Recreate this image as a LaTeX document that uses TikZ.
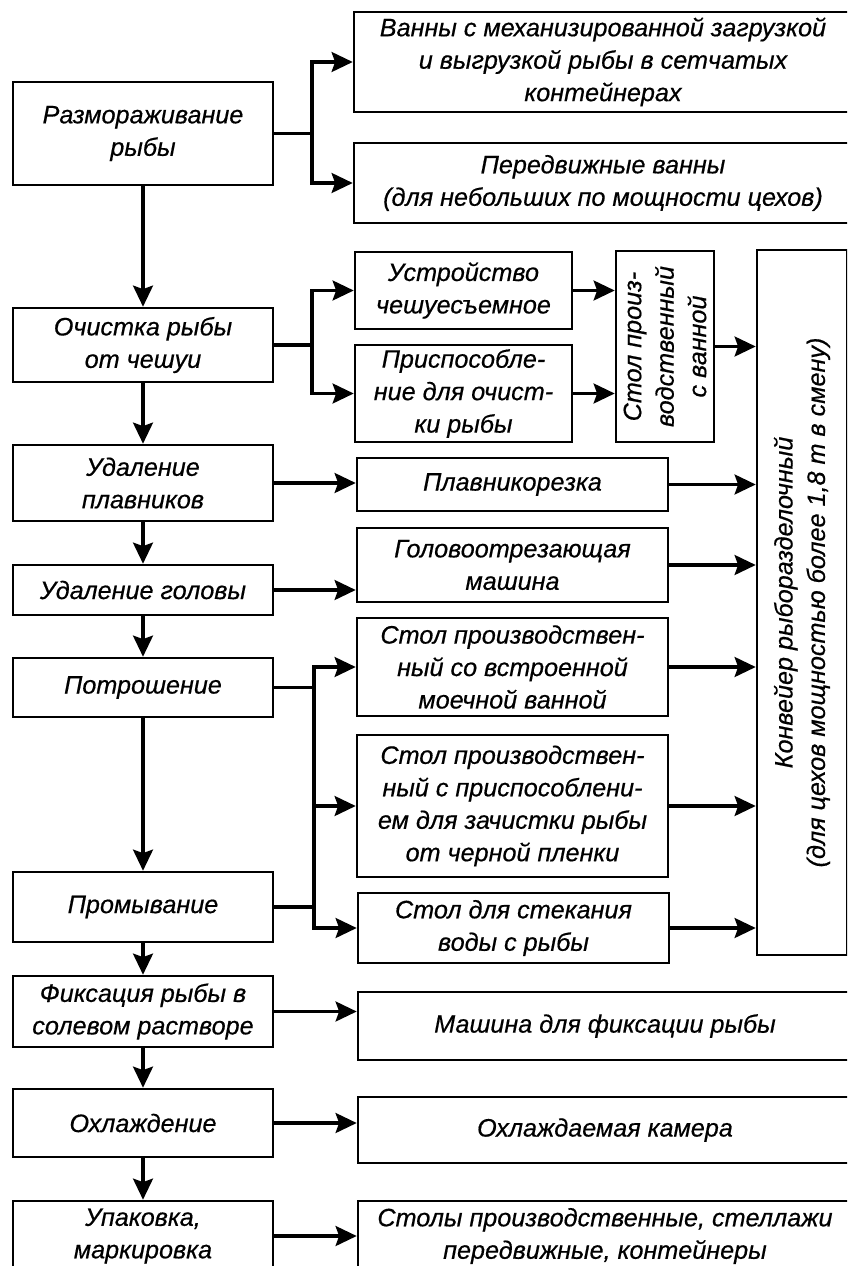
\documentclass[tikz,border=0pt]{standalone}
\usepackage{fontspec}
\setmainfont{Liberation Sans}[FakeBold=0.5]
\usetikzlibrary{arrows.meta}

\begin{document}
\begin{tikzpicture}[x=0.3mm,y=-0.3mm,
  box/.style={draw, rectangle, line width=2.2pt, align=center, inner sep=1pt,
    font=\itshape\fontsize{21.5}{27.7}\selectfont},
  link/.style={line width=2.8pt, -{Stealth[length=18pt,width=17pt,inset=3pt]}},
  plain/.style={line width=2.8pt}]
\useasboundingbox (0,0) rectangle (847,1266);
\clip (0,0) rectangle (847,1266);
% process steps
\node[box, minimum width=7.8cm, minimum height=3.09cm] (thaw) at (143,133.5) {Размораживание\\рыбы};
\node[box, minimum width=7.8cm, minimum height=2.22cm] (scale) at (143,345) {Очистка рыбы\\от чешуи};
\node[box, minimum width=7.8cm, minimum height=2.28cm] (fins) at (143,483) {Удаление\\плавников};
\node[box, minimum width=7.8cm, minimum height=1.5cm] (head) at (143,590) {Удаление головы};
\node[box, minimum width=7.8cm, minimum height=1.77cm] (gut) at (143,687.5) {Потрошение};
\node[box, minimum width=7.8cm, minimum height=2.1cm] (wash) at (143,907) {Промывание};
\node[box, minimum width=7.8cm, minimum height=2.13cm] (fix) at (143,1011.5) {Фиксация рыбы в\\солевом растворе};
\node[box, minimum width=7.8cm, minimum height=2.04cm] (cool) at (143,1123) {Охлаждение};
\node[box, minimum width=7.8cm, minimum height=2.1cm] (pack) at (143,1236) {Упаковка,\\маркировка};
% equipment
\node[box, minimum width=14.94cm, minimum height=3cm] (bathA) at (603,62) {Ванны с механизированной загрузкой\\и выгрузкой рыбы в сетчатых\\контейнерах};
\node[box, minimum width=14.94cm, minimum height=2.4cm] (bathB) at (603,183) {Передвижные ванны\\(для небольших по мощности цехов)};
\node[box, minimum width=6.51cm, minimum height=2.31cm] (descaler) at (463.5,290.5) {Устройство\\чешуесъемное};
\node[box, minimum width=6.51cm, minimum height=2.91cm] (device) at (463.5,393.5) {Приспособле-\\ние для очист-\\ки рыбы};
\node[box, rotate=90, minimum width=5.73cm, minimum height=2.94cm] (tablebath) at (665,346.5) {Стол произ-\\водственный\\с ванной};
\node[box, rotate=90, minimum width=21.15cm, minimum height=2.7cm] (conv) at (802,602.5) {Конвейер рыборазделочный\\(для цехов мощностью более 1,8 т в смену)};
\node[box, minimum width=9.33cm, minimum height=1.59cm] (fincut) at (512.5,484.5) {Плавникорезка};
\node[box, minimum width=9.33cm, minimum height=2.22cm] (headcut) at (512.5,565) {Головоотрезающая\\машина};
\node[box, minimum width=9.33cm, minimum height=2.94cm] (tableA) at (512.5,667) {Стол производствен-\\ный со встроенной\\моечной ванной};
\node[box, minimum width=9.33cm, minimum height=4.26cm] (tableB) at (512.5,806) {Стол производствен-\\ный с приспособлени-\\ем для зачистки рыбы\\от черной пленки};
\node[box, minimum width=9.33cm, minimum height=2.1cm] (drain) at (513.5,928) {Стол для стекания\\воды с рыбы};
\node[box, minimum width=14.82cm, minimum height=2.04cm] (fixer) at (605,1026) {Машина для фиксации рыбы};
\node[box, minimum width=14.82cm, minimum height=1.98cm] (cooler) at (605,1130) {Охлаждаемая камера};
\node[box, minimum width=14.82cm, minimum height=2.1cm] (racks) at (605,1236) {Столы производственные, стеллажи\\передвижные, контейнеры};
% branch points
\coordinate (j1) at (312,133.5);
\coordinate (j2) at (312,345);
\coordinate (j3) at (314,687.5);
% main line
\draw[link] (thaw) -- (scale);
\draw[link] (scale) -- (fins);
\draw[link] (fins) -- (head);
\draw[link] (head) -- (gut);
\draw[link] (gut) -- (wash);
\draw[link] (wash) -- (fix);
\draw[link] (fix) -- (cool);
\draw[link] (cool) -- (pack);
% to equipment
\draw[link] (thaw.east) -- (j1) |- (bathA.west);
\draw[link] (j1) |- (bathB.west);
\draw[link] (scale.east) -- (j2) |- (descaler.west);
\draw[link] (j2) |- (device.west);
\draw[link] (descaler.east) -- (descaler.east -| tablebath.north);
\draw[link] (device.east) -- (device.east -| tablebath.north);
\draw[link] (tablebath.south) -- (tablebath.south -| conv.north);
\draw[link] (fins.east) -- (fins.east -| fincut.west);
\draw[link] (fincut.east) -- (fincut.east -| conv.north);
\draw[link] (head.east) -- (head.east -| headcut.west);
\draw[link] (headcut.east) -- (headcut.east -| conv.north);
\draw[link] (gut.east) -- (j3) |- (tableA.west);
\draw[link] (j3) |- (tableB.west);
\draw[link] (j3) |- (drain.west);
\draw[plain] (wash.east) -- (wash.east -| j3);
\draw[link] (tableA.east) -- (tableA.east -| conv.north);
\draw[link] (tableB.east) -- (tableB.east -| conv.north);
\draw[link] (drain.east) -- (drain.east -| conv.north);
\draw[link] (fix.east) -- (fix.east -| fixer.west);
\draw[link] (cool.east) -- (cool.east -| cooler.west);
\draw[link] (pack.east) -- (pack.east -| racks.west);
\end{tikzpicture}
\end{document}
